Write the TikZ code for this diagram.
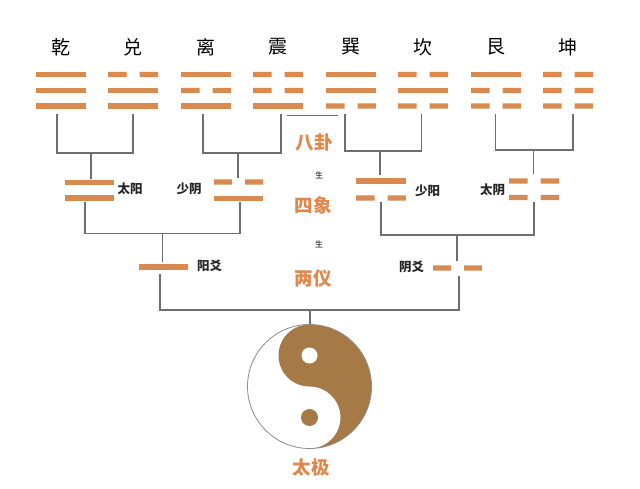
\documentclass[tikz,border=0pt]{standalone}
\usepackage{fontspec}
\setmainfont{Noto Sans CJK SC}
\definecolor{barc}{HTML}{D98A50}
\definecolor{orangetxt}{HTML}{E0874C}
\definecolor{brownyy}{HTML}{A67A47}
\definecolor{linec}{HTML}{6F6F6F}
\newcommand\yangbar[3]{\fill[barc] ({#1-#3/2},{#2-2.6}) rectangle ({#1+#3/2},{#2+2.6});}
\newcommand\yinbar[3]{\fill[barc] ({#1-#3/2},{#2-2.6}) rectangle ({#1-6.5},{#2+2.6}) ({#1+6.5},{#2-2.6}) rectangle ({#1+#3/2},{#2+2.6});}
\begin{document}
\begin{tikzpicture}[x=1pt,y=-1pt,
  conn/.style={draw=linec,line width=1.5pt},
  toplabel/.style={inner sep=0pt,font=\fontsize{19}{19}\selectfont,text=black},
  midlabel/.style={inner sep=0pt,font=\fontsize{18.5}{19}\selectfont\bfseries,text=orangetxt},
  smalllabel/.style={inner sep=0pt,font=\fontsize{12.5}{13}\selectfont\bfseries,text=black!85},
  shenglabel/.style={inner sep=0pt,font=\fontsize{8}{8}\selectfont,text=black}]
\useasboundingbox (0,0) rectangle (640,489);
\fill[white] (0,0) rectangle (640,489);

% top labels
\node[toplabel] (qianL)  at (61,47)  {乾};
\node[toplabel] (duiL)   at (133,47) {兑};
\node[toplabel] (liL)    at (206,47) {离};
\node[toplabel] (zhenL)  at (278,47) {震};
\node[toplabel] (xunL)   at (351,47) {巽};
\node[toplabel] (kanL)   at (423,47) {坎};
\node[toplabel] (genL)   at (496,47) {艮};
\node[toplabel] (kunL)   at (568,47) {坤};

% trigrams (top, middle, bottom)
\yangbar{61}{74.5}{50} \yangbar{61}{90.5}{50} \yangbar{61}{106}{50}
\yinbar{133}{74.5}{50} \yangbar{133}{90.5}{50} \yangbar{133}{106}{50}
\yangbar{206}{74.5}{50} \yinbar{206}{90.5}{50} \yangbar{206}{106}{50}
\yinbar{278}{74.5}{50} \yinbar{278}{90.5}{50} \yangbar{278}{106}{50}
\yangbar{351}{74.5}{50} \yangbar{351}{90.5}{50} \yinbar{351}{106}{50}
\yinbar{423}{74.5}{50} \yangbar{423}{90.5}{50} \yinbar{423}{106}{50}
\yangbar{496}{74.5}{50} \yinbar{496}{90.5}{50} \yinbar{496}{106}{50}
\yinbar{568}{74.5}{50} \yinbar{568}{90.5}{50} \yinbar{568}{106}{50}

% bigrams
\yangbar{89}{182.5}{49} \yangbar{89}{198}{49}
\yinbar{238.5}{182}{49} \yangbar{238.5}{198.5}{49}
\yangbar{381}{181}{50} \yinbar{381}{198}{50}
\yinbar{534}{181}{50} \yinbar{534}{197.5}{50}

% yao
\yangbar{163.5}{267}{49}
\yinbar{457.5}{268}{49}

% middle labels
\node[midlabel] (bagua)   at (314,142) {八卦};
\node[shenglabel] (sheng1) at (319,175) {生};
\node[midlabel] (sixiang) at (313,205) {四象};
\node[shenglabel] (sheng2) at (319,244) {生};
\node[midlabel] (liangyi) at (313,279) {两仪};
\node[midlabel] (taiji)   at (311,467) {太极};

% small labels
\node[smalllabel] (taiyangL)  at (130,189) {太阳};
\node[smalllabel] (shaoyinL)  at (189,189) {少阴};
\node[smalllabel] (shaoyangL) at (427.5,191) {少阳};
\node[smalllabel] (taiyinL)   at (492.5,190) {太阴};
\node[smalllabel] (yangyaoL)  at (209.7,266) {阳爻};
\node[smalllabel] (yinyaoL)   at (411.7,267) {阴爻};

% connection points
\coordinate (qianB) at (57,114);  \coordinate (duiB) at (133,114);
\coordinate (liB) at (203,114);   \coordinate (zhenB) at (281,114);
\coordinate (xunB) at (345,114);  \coordinate (kanB) at (421.5,114);
\coordinate (genB) at (495.5,114);\coordinate (kunB) at (573,114);
\coordinate (taiyangJ) at (91,153);   \coordinate (taiyangT) at (91,179);
\coordinate (shaoyinJ) at (238,153);  \coordinate (shaoyinT) at (238,178);
\coordinate (shaoyangJ) at (380,151); \coordinate (shaoyangT) at (380,175.5);
\coordinate (taiyinJ) at (533.5,150); \coordinate (taiyinT) at (533.5,174);
\coordinate (taiyangB) at (85,202);   \coordinate (shaoyinB) at (240,202);
\coordinate (shaoyangB) at (381,202); \coordinate (taiyinB) at (534,202);
\coordinate (yangyaoJ) at (162.7,233.5); \coordinate (yangyaoT) at (162.7,262);
\coordinate (yinyaoJ) at (457,235);      \coordinate (yinyaoT) at (457,261);
\coordinate (yangyaoB) at (160,274);  \coordinate (yinyaoB) at (459,276);
\coordinate (taijiJ) at (310,310);    \coordinate (taijiT) at (310,324.5);

% connectors: trigrams -> bigrams
\draw[conn] (qianB) -- (qianB |- taiyangJ) -- (duiB |- taiyangJ) -- (duiB);
\draw[conn] (taiyangJ) -- (taiyangT);
\draw[conn] (liB) -- (liB |- shaoyinJ) -- (zhenB |- shaoyinJ) -- (zhenB);
\draw[conn] (shaoyinJ) -- (shaoyinT);
\draw[conn] (xunB) -- (xunB |- shaoyangJ) -- (kanB |- shaoyangJ) -- (kanB);
\draw[conn] (shaoyangJ) -- (shaoyangT);
\draw[conn] (genB) -- (genB |- taiyinJ) -- (kunB |- taiyinJ) -- (kunB);
\draw[conn] (taiyinJ) -- (taiyinT);
% bigrams -> yao
\draw[conn] (taiyangB) -- (taiyangB |- yangyaoJ) -- (shaoyinB |- yangyaoJ) -- (shaoyinB);
\draw[conn] (yangyaoJ) -- (yangyaoT);
\draw[conn] (shaoyangB) -- (shaoyangB |- yinyaoJ) -- (taiyinB |- yinyaoJ) -- (taiyinB);
\draw[conn] (yinyaoJ) -- (yinyaoT);
% yao -> taiji
\draw[conn] (yangyaoB) -- (yangyaoB |- taijiJ) -- (yinyaoB |- taijiJ) -- (yinyaoB);
\draw[conn] (taijiJ) -- (taijiT);
% stray thin line
\coordinate (strayA) at (287,115); \coordinate (strayB) at (338,115);
\draw[linec,line width=0.8pt] (strayA) -- (strayB);

% yin-yang
\begin{scope}[shift={(309.5,386.5)},y=1pt]
  \fill[white] (0,0) circle[radius=62];
  \fill[brownyy] (0,62) arc[start angle=90,end angle=-90,radius=62]
     arc[start angle=-90,end angle=90,radius=31]
     arc[start angle=-90,end angle=-270,radius=31] -- cycle;
  \draw[linec!80,line width=0.8pt] (0,0) circle[radius=62];
  \fill[white] (0,31) circle[radius=8];
  \fill[brownyy] (0,-31) circle[radius=8.5];
\end{scope}
\end{tikzpicture}
\end{document}
